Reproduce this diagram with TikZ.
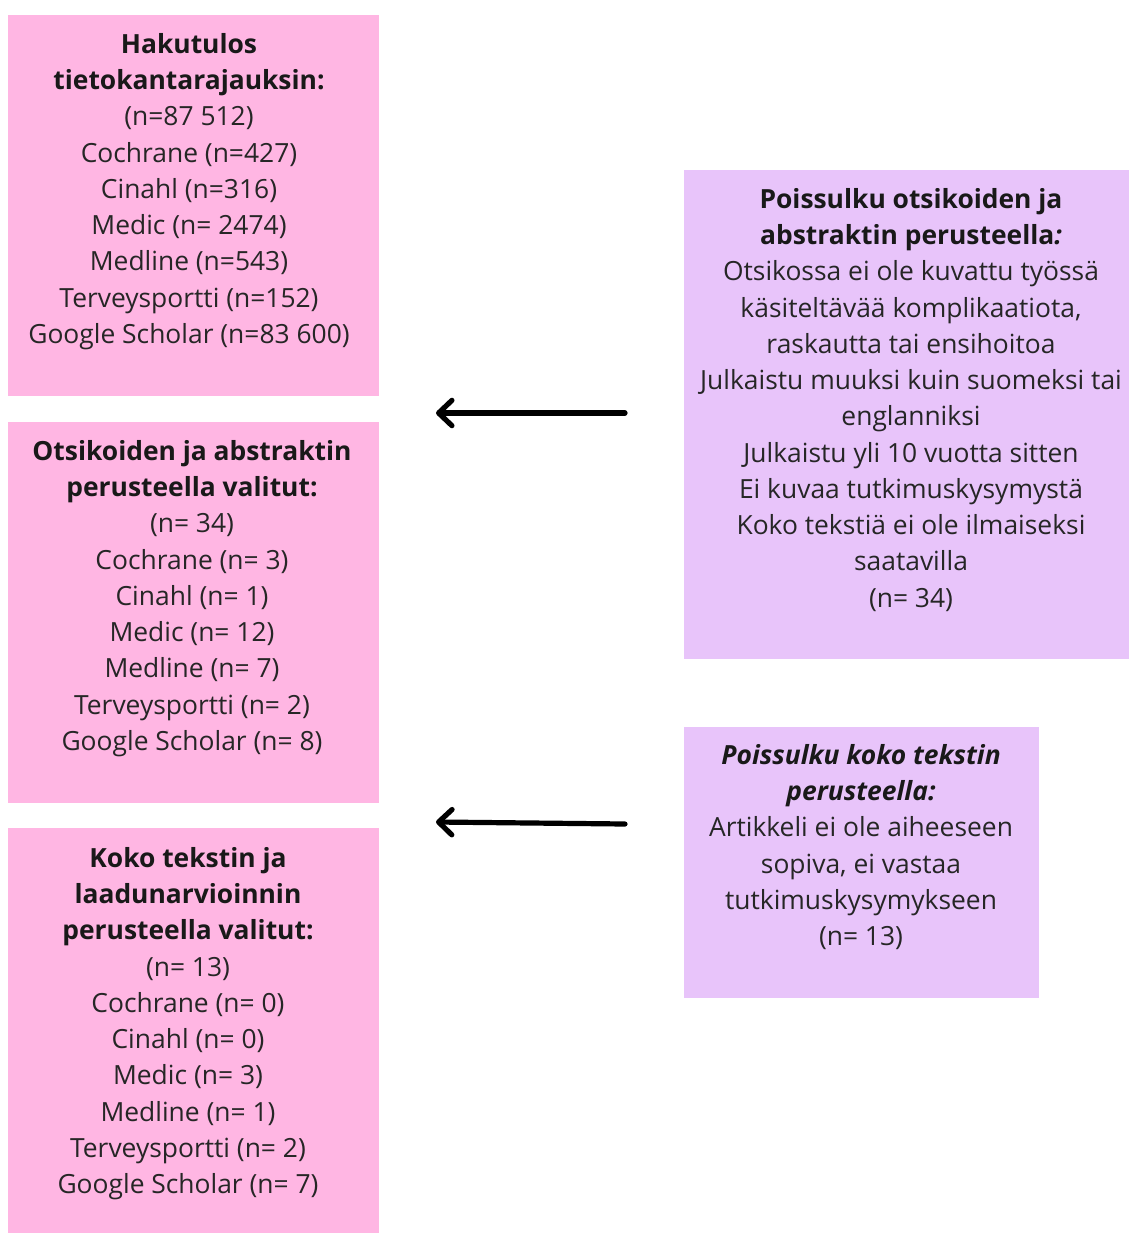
\documentclass[tikz,border=0pt]{standalone}
\usepackage{fontspec}
\setmainfont{Open Sans}
\usetikzlibrary{arrows.meta}
\definecolor{pinkbox}{HTML}{FFB6E3}
\definecolor{purplebox}{HTML}{E8C4FA}
\definecolor{txt}{HTML}{262626}
\begin{document}
\begin{tikzpicture}[x=0.75pt,y=-0.75pt,
  box/.style={draw=none,inner sep=0pt,anchor=north west},
  label/.style={anchor=north,align=center,inner sep=0pt,text=txt,
    font=\fontsize{19.8}{27.2}\selectfont},
  arr/.style={line width=3.9pt,line cap=round,-{Straight Barb[length=10pt,width=19pt,line width=3.9pt,round]}}]
\useasboundingbox (0,0) rectangle (1129,1235);
% boxes
\node[box,fill=pinkbox,minimum width=371*0.75pt,minimum height=381*0.75pt] (b1) at (8,15) {};
\node[box,fill=pinkbox,minimum width=371*0.75pt,minimum height=381*0.75pt] (b2) at (8,422) {};
\node[box,fill=pinkbox,minimum width=371*0.75pt,minimum height=405*0.75pt] (b3) at (8,828) {};
\node[box,fill=purplebox,minimum width=445*0.75pt,minimum height=489*0.75pt] (b4) at (684,170) {};
\node[box,fill=purplebox,minimum width=355*0.75pt,minimum height=271*0.75pt] (b5) at (684,727) {};
% texts
\node[label] (t1) at (189,33) {\textbf{\textcolor{black!90}{Hakutulos}}\\
\textbf{\textcolor{black!90}{tietokantarajauksin:}}\\
(n=87 512)\\ Cochrane (n=427)\\ Cinahl (n=316)\\ Medic (n= 2474)\\
Medline (n=543)\\ Terveysportti (n=152)\\ Google Scholar (n=83 600)};
\node[label] (t2) at (192,440) {\textbf{\textcolor{black!90}{Otsikoiden ja abstraktin}}\\
\textbf{\textcolor{black!90}{perusteella valitut:}}\\
(n= 34)\\ Cochrane (n= 3)\\ Cinahl (n= 1)\\ Medic (n= 12)\\
Medline (n= 7)\\ Terveysportti (n= 2)\\ Google Scholar (n= 8)};
\node[label] (t3) at (188,847) {\textbf{\textcolor{black!90}{Koko tekstin ja}}\\
\textbf{\textcolor{black!90}{laadunarvioinnin}}\\
\textbf{\textcolor{black!90}{perusteella valitut:}}\\
(n= 13)\\ Cochrane (n= 0)\\ Cinahl (n= 0)\\ Medic (n= 3)\\
Medline (n= 1)\\ Terveysportti (n= 2)\\ Google Scholar (n= 7)};
\node[label] (t4) at (911,188) {\textbf{\textcolor{black!90}{Poissulku otsikoiden ja}}\\
\textbf{\textcolor{black!90}{abstraktin perusteella\textit{:}}}\\
Otsikossa ei ole kuvattu työssä\\ käsiteltävää komplikaatiota,\\
raskautta tai ensihoitoa\\ Julkaistu muuksi kuin suomeksi tai\\
englanniksi\\ Julkaistu yli 10 vuotta sitten\\ Ei kuvaa tutkimuskysymystä\\
Koko tekstiä ei ole ilmaiseksi\\ saatavilla\\ (n= 34)};
\node[label] (t5) at (861,744) {\textbf{\textit{\textcolor{black!90}{Poissulku koko tekstin}}}\\
\textbf{\textit{\textcolor{black!90}{perusteella:}}}\\
Artikkeli ei ole aiheeseen\\ sopiva, ei vastaa\\ tutkimuskysymykseen\\ (n= 13)};
% arrows
\coordinate (a1s) at (625,413);
\coordinate (a1e) at (436,413);
\coordinate (a2s) at (625,824);
\coordinate (a2e) at (436,822);
\draw[arr] (a1s) -- (a1e);
\draw[arr] (a2s) -- (a2e);
\end{tikzpicture}
\end{document}
